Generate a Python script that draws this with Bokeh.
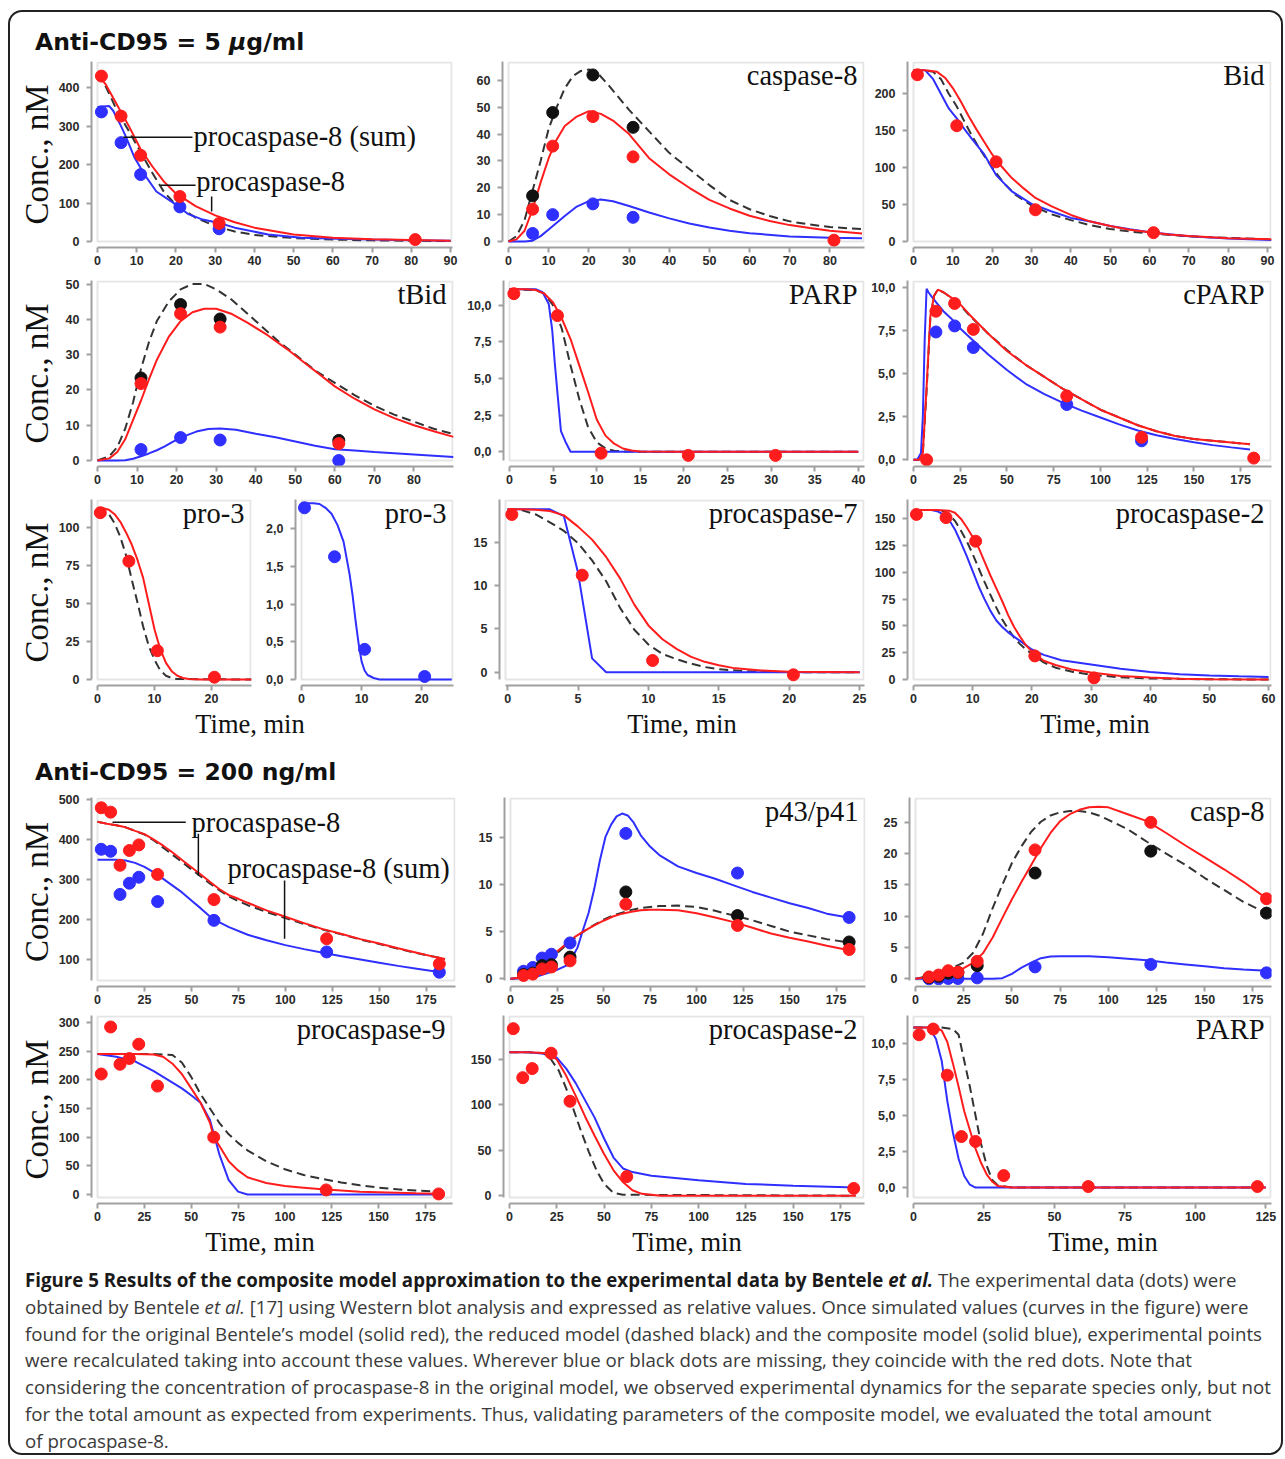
from bokeh.plotting import figure
from bokeh.models import Range1d, FixedTicker, BoxAnnotation, Label, Div, CustomJSTickFormatter
from bokeh.layouts import column, row
from bokeh.embed import file_html
from bokeh.resources import INLINE

# ---------------- data ----------------
# Panel A: procaspase-8 (5 ug/ml)
A_t = [0, 2, 5, 8, 11, 14, 17, 20, 25, 30, 35, 40, 50, 60, 70, 80, 90]
A_red = [435, 410, 355, 300, 240, 195, 155, 125, 92, 68, 50, 36, 18, 10, 6, 4, 2]
A_blk = [435, 405, 340, 287, 232, 178, 128, 95, 62, 40, 26, 17, 9, 5, 3, 2, 1]
A_tb = [0, 3, 4, 6, 7, 9.5, 12, 15, 20, 23, 26.5, 31, 35, 43.5, 52, 61, 70, 80, 90]
A_blu = [350, 352, 340, 300, 278, 217, 174, 130, 96, 72, 58, 48, 36, 18, 10, 7, 5, 3, 2]
A_dt = [1, 6, 11, 21, 31, 81]
A_dred = [430, 326, 224, 117, 47, 5]
A_dtb = [1, 6, 11, 21, 31]
A_dblu = [337, 257, 174, 90, 33]
A_lead_x0 = [6.6, 16.1, 29.1]
A_lead_y0 = [271, 146, 117]
A_lead_x1 = [24.2, 25.0, 29.1]
A_lead_y1 = [271, 146, 78]

# Panel B: caspase-8
B_tr = [0, 2, 4, 6, 8, 10, 12, 14, 17, 20, 23, 26, 30, 35, 40, 45, 50, 55, 60, 65, 70, 75, 80, 88]
B_red = [0, 0.8, 4, 12, 22, 31, 38, 43, 46.5, 48.5, 47.5, 45, 40, 31, 25, 20, 15.5, 12.3, 9.6, 7.6, 6.1, 5, 4, 3]
B_tk = [0, 2, 4, 6, 8, 10, 12, 14, 16, 18, 20, 22, 25, 30, 35, 40, 45, 50, 55, 60, 65, 70, 75, 80, 88]
B_blk = [0, 2, 8, 19, 30, 42, 50, 57, 61.5, 63.5, 64, 63, 58, 49, 41, 33, 27, 21, 15.5, 12, 9.5, 7.5, 6.3, 5.4, 4.6]
B_tb = [0, 4, 6, 8, 10, 12, 14, 17, 20, 23, 26, 30, 35, 40, 45, 50, 55, 60, 70, 80, 88]
B_blu = [0, 0, 0.3, 2, 4.5, 7, 9.5, 13, 15, 15.6, 15, 13.2, 10.8, 8.6, 6.7, 5.2, 4, 3.1, 1.9, 1.4, 1.2]
B_dt = [6, 11, 21, 31]
B_dblk = [17, 48, 62, 42.5]
B_dblu = [3, 10, 14, 9]
B_dtr = [6, 11, 21, 31, 81]
B_dred = [12, 35.5, 46.5, 31.5, 0.5]

# Panel C: Bid
C_tr = [0, 3, 6, 8, 10, 12, 14, 16, 18, 20, 22, 25, 28, 31, 35, 40, 45, 50, 55, 60, 65, 70, 80, 91]
C_red = [232, 232, 230, 222, 208, 190, 170, 152, 135, 118, 104, 86, 72, 59, 48, 36, 27, 21, 16, 12.5, 9.5, 7.5, 4.5, 3]
C_tk = [0, 3, 5, 7, 9, 11, 13, 15, 17, 20, 23, 26, 30, 35, 40, 45, 50, 55, 60, 70, 80, 91]
C_blk = [232, 232, 230, 220, 200, 183, 162, 142, 124, 100, 79, 63, 49, 37, 29, 22, 17, 13.5, 11, 7, 5, 3]
C_tb = [0, 3, 5, 7, 9, 11, 13, 15, 18, 21, 25, 30, 35, 40, 45, 50, 55, 60, 70, 80, 91]
C_blu = [232, 232, 220, 200, 180, 167, 152, 138, 118, 90, 68, 51, 41, 32, 27, 21, 16.5, 12.5, 7, 4, 2]
C_dt = [1, 11, 21, 31, 61]
C_dred = [226, 157, 108, 43, 12]

# Panel D: tBid
D_tr = [0, 3, 5, 7, 9, 11, 13, 15, 18, 21, 24, 27, 30, 34, 38, 43, 48, 52, 56, 60, 65, 70, 75, 80, 85, 90]
D_red = [0, 0.6, 2.4, 6, 11.5, 17, 23, 28.5, 35, 39.5, 42, 43, 43, 41.5, 39, 35.5, 31.5, 28, 24.5, 21, 17.5, 14.5, 12, 10, 8.3, 6.7]
D_tk = [0, 3, 5, 7, 9, 11, 13, 15, 18, 21, 24, 27, 30, 34, 38, 42, 46, 50, 55, 60, 65, 70, 75, 80, 85, 90]
D_blk = [0, 1.2, 3.8, 9, 16.5, 26, 33.5, 39.5, 45, 48.5, 50, 50, 48.5, 45.5, 41.5, 37.5, 33.5, 30, 25.5, 22, 18.5, 15.5, 13, 11, 9, 7.5]
D_tb = [0, 5, 7, 9, 11, 13, 15, 17, 19, 22, 25, 28, 31, 35, 40, 45, 50, 55, 60, 65, 70, 80, 90]
D_blu = [0, 0, 0.1, 0.5, 1.2, 2, 2.9, 4, 5.3, 6.9, 8.2, 8.9, 9.1, 8.7, 7.6, 6.6, 5.4, 4.2, 3.2, 2.8, 2.4, 1.7, 1]
D_dt = [11, 21, 31, 61]
D_dblk = [23.4, 44.2, 40.1, 5.7]
D_dred = [21.8, 41.6, 37.8, 4.8]
D_dblu = [3.1, 6.5, 5.8, 0]

# Panel E: PARP
E_tr = [0, 2, 3, 4, 5, 6, 7, 8, 9, 10, 11, 12, 13, 14, 15, 20, 30, 40]
E_red = [11.1, 11.1, 11.05, 10.8, 10.2, 9.1, 7.7, 5.9, 4.1, 2.2, 1.1, 0.55, 0.22, 0.08, 0.02, 0, 0, 0]
E_tk = [0, 3, 4, 5, 6, 7, 8, 9, 10, 11, 12, 13, 15, 40]
E_blk = [11.1, 11.05, 10.8, 10.0, 8.4, 5.9, 3.6, 1.7, 0.65, 0.22, 0.07, 0.02, 0, 0]
E_tb = [0, 3, 3.8, 4.5, 4.9, 5.2, 5.5, 5.9, 6.4, 7, 40]
E_blu = [11.1, 11.1, 10.9, 10.1, 8.3, 6.0, 4.0, 1.4, 0.7, 0, 0]
E_dt = [0.5, 5.5, 10.5, 20.5, 30.5]
E_dred = [10.8, 9.3, -0.1, -0.25, -0.25]

# Panel F: cPARP
F_tr = [0, 3, 5, 7, 9, 11, 13, 16, 20, 25, 30, 40, 50, 60, 70, 80, 90, 100, 110, 120, 130, 140, 150, 160, 170, 180]
F_red = [0, 0, 0.4, 4.2, 8.3, 9.5, 9.85, 9.7, 9.4, 9.0, 8.4, 7.3, 6.3, 5.5, 4.8, 4.1, 3.5, 2.9, 2.45, 2.0, 1.65, 1.38, 1.2, 1.1, 1.0, 0.9]
F_blk = [0, 0, 0.4, 4.0, 8.2, 9.5, 9.85, 9.7, 9.4, 8.95, 8.35, 7.3, 6.35, 5.5, 4.8, 4.1, 3.5, 2.9, 2.45, 2.0, 1.65, 1.38, 1.2, 1.1, 1.0, 0.9]
F_tb = [0, 2, 4, 5, 6, 7, 8, 10, 13, 16, 20, 25, 30, 40, 50, 60, 70, 80, 90, 100, 110, 120, 130, 140, 150, 160, 170, 180]
F_blu = [0, 0, 0.4, 2.5, 7.0, 9.9, 9.7, 9.4, 9.0, 8.6, 8.2, 7.6, 7.1, 6.1, 5.2, 4.4, 3.8, 3.3, 2.85, 2.45, 2.05, 1.7, 1.42, 1.2, 1.02, 0.85, 0.72, 0.6]
F_dtr = [7, 12, 22, 32, 82, 122, 182]
F_dred = [0, 8.6, 9.05, 7.55, 3.7, 1.3, 0.1]
F_dtb = [12, 22, 32, 82, 122]
F_dblu = [7.4, 7.75, 6.5, 3.2, 1.1]

# Panel G: pro-3 (original/reduced)
G_tr = [0, 1, 2, 3, 4, 5, 6, 7, 8, 9, 10, 11, 12, 13, 14, 15, 16, 18, 20, 27]
G_red = [113, 113, 112, 109, 104, 97, 89, 79, 67, 50, 33, 20, 11, 5.5, 2.5, 1, 0.4, 0, 0, 0]
G_tk = [0, 1, 2, 3, 4, 5, 6, 7, 8, 9, 10, 11, 12, 13, 14, 27]
G_blk = [113, 112, 109, 103, 94, 82, 66, 51, 35, 22, 13, 6, 2.5, 1, 0.3, 0]
G_dt = [0.5, 5.5, 10.5, 20.5]
G_dred = [110, 78, 19, 1.5]

# Panel H: pro-3 (composite)
H_tb = [0, 1, 2, 3, 4, 5, 6, 7, 8, 8.5, 9, 9.5, 10, 10.5, 11, 12, 13, 25]
H_blu = [2.34, 2.34, 2.34, 2.33, 2.28, 2.2, 2.05, 1.83, 1.4, 1.12, 0.78, 0.48, 0.24, 0.12, 0.06, 0.02, 0, 0]
H_dt = [0.5, 5.5, 10.5, 20.5]
H_dblu = [2.28, 1.63, 0.4, 0.04]

# Panel I: procaspase-7
I_tr = [0, 1, 2, 3, 4, 5, 6, 7, 8, 9, 10, 11, 12, 13, 14, 15, 16, 18, 20, 25]
I_red = [18.8, 18.8, 18.75, 18.6, 18.1, 16.8, 15.3, 13.3, 10.8, 7.8, 5.4, 3.8, 2.7, 1.8, 1.2, 0.8, 0.5, 0.2, 0.05, 0]
I_tk = [0, 1, 2, 3, 4, 5, 6, 7, 8, 9, 10, 11, 12, 13, 14, 15, 17, 20, 25]
I_blk = [18.8, 18.7, 18.2, 17.3, 16.3, 14.9, 12.9, 10.5, 7.4, 4.9, 3.2, 2.1, 1.5, 1.0, 0.6, 0.35, 0.1, 0, 0]
I_tb = [0, 3, 4, 5, 6, 7, 25]
I_blu = [18.8, 18.8, 18.0, 11.5, 1.6, 0, 0]
I_dt = [0.3, 5.3, 10.3, 20.3]
I_dred = [18.2, 11.2, 1.35, -0.3]

# Panel J: procaspase-2 (5 ug/ml)
J_tr = [0, 2, 4, 6, 7, 8, 9, 10, 11, 12, 13, 14, 15, 16, 17, 18, 19, 20, 22, 24, 27, 30, 35, 40, 45, 50, 60]
J_red = [158, 158, 158, 157.5, 155.5, 150, 142, 133, 123, 110, 97, 85, 73, 60, 49, 40, 32, 26, 17.5, 13.5, 9, 6.5, 3.3, 1.8, 0.8, 0.3, 0]
J_tk = [0, 2, 4, 5, 6, 7, 8, 9, 10, 11, 12, 13, 14, 15, 16, 17, 18, 19, 20, 22, 24, 27, 30, 35, 40, 50, 60]
J_blk = [158, 158, 158, 157, 154, 148, 139, 129, 117, 104, 91, 79, 67, 56, 47, 39, 33, 28, 24, 16, 11, 7, 4.5, 2, 1, 0.2, 0]
J_tb = [0, 2, 3, 4, 5, 6, 7, 8, 9, 10, 11, 12, 13, 14, 15, 16, 18, 20, 22, 25, 30, 35, 40, 45, 50, 55, 60]
J_blu = [158, 158, 158, 157, 154, 149, 140, 128, 115, 101, 87, 75, 64, 55, 49, 44, 36, 28, 23, 18, 14, 10, 7, 5, 3.8, 3, 2.3]
J_dt = [0.5, 5.5, 10.5, 20.5, 30.5]
J_dred = [154, 151, 129, 22, 1.5]

# Panel K: procaspase-8 (200 ng/ml)
K_t = [0, 5, 10, 15, 20, 25, 30, 35, 40, 45, 50, 55, 60, 65, 70, 75, 80, 90, 100, 110, 120, 130, 140, 150, 160, 170, 180, 185]
K_red = [445, 440, 436, 431, 422, 414, 400, 385, 368, 349, 331, 313, 294, 276, 261, 252, 242, 223, 207, 191, 176, 164, 151, 140, 128, 117, 106, 101]
K_blk = [445, 440, 436, 431, 422, 413, 398, 380, 362, 344, 326, 308, 290, 273, 258, 246, 236, 219, 204, 189, 175, 163, 150, 139, 127, 116, 106, 101]
K_tb = [0, 5, 10, 15, 20, 25, 30, 35, 40, 45, 50, 55, 60, 65, 70, 80, 90, 100, 110, 120, 130, 140, 150, 160, 170, 180, 185]
K_blu = [350, 350, 350, 348, 342, 332, 318, 302, 285, 268, 248, 228, 207, 193, 181, 162, 148, 136, 126, 117, 108, 100, 92, 84, 77, 70, 67]
K_dt = [2, 7, 12, 17, 22, 32, 62, 122, 182]
K_dred = [480, 469, 336, 373, 387, 313, 250, 152, 89]
K_dblu = [376, 371, 263, 291, 306, 245, 198, 119, 68]
K_lead_x0 = [8, 53.7, 99.6]
K_lead_y0 = [444, 415, 298]
K_lead_x1 = [47, 53.7, 99.6]
K_lead_y1 = [444, 310, 152]

# Panel L: p43/p41
L_t = [0, 5, 10, 15, 20, 25, 30, 35, 40, 45, 50, 55, 60, 65, 70, 75, 80, 90, 100, 110, 120, 130, 140, 150, 160, 170, 180, 182]
L_red = [0, 0.1, 0.4, 1.0, 2.0, 2.9, 3.7, 4.5, 5.1, 5.65, 6.15, 6.6, 6.9, 7.1, 7.25, 7.3, 7.3, 7.25, 6.95, 6.5, 6.0, 5.4, 4.8, 4.35, 3.95, 3.5, 3.1, 3.05]
L_blk = [0, 0.1, 0.35, 0.9, 1.8, 2.7, 3.6, 4.4, 5.1, 5.7, 6.25, 6.7, 7.0, 7.3, 7.5, 7.6, 7.7, 7.75, 7.6, 7.2, 6.7, 6.2, 5.6, 5.0, 4.6, 4.2, 3.9, 3.85]
L_tb = [0, 10, 15, 20, 25, 30, 33, 36, 39, 42, 45, 48, 51, 54, 57, 60, 63, 66, 70, 75, 80, 90, 100, 110, 120, 130, 140, 150, 160, 170, 180, 182]
L_blu = [0, 0.1, 0.3, 0.6, 0.95, 1.4, 2.2, 3.3, 5.2, 7.0, 9.5, 12.5, 15.0, 16.3, 17.2, 17.5, 17.3, 16.6, 15.2, 14.0, 13.1, 11.9, 11.2, 10.6, 9.9, 9.2, 8.6, 8.0, 7.5, 6.9, 6.55, 6.45]
L_dt = [7, 12, 17, 22, 32, 62, 122, 182]
L_dblu = [0.8, 1.2, 2.2, 2.6, 3.8, 15.4, 11.2, 6.5]
L_dblk = [0.45, 0.6, 1.4, 1.5, 2.3, 9.2, 6.7, 3.9]
L_dred = [0.35, 0.5, 1.05, 1.25, 1.9, 7.9, 5.65, 3.1]

# Panel M: casp-8
M_t = [0, 5, 10, 15, 20, 25, 30, 35, 40, 45, 50, 55, 60, 65, 70, 75, 80, 85, 90, 95, 100, 110, 120, 130, 140, 150, 160, 170, 180, 182]
M_red = [0, 0.2, 0.5, 1.0, 1.3, 1.7, 2.6, 4.1, 6.6, 9.7, 12.7, 15.5, 18.2, 20.9, 23.3, 25.2, 26.3, 27.0, 27.4, 27.5, 27.4, 26.3, 25.2, 23.3, 21.3, 19.4, 17.5, 15.5, 13.3, 13.0]
M_blk = [0, 0.3, 0.7, 1.3, 1.9, 2.6, 4.2, 7.2, 11.3, 15, 18.5, 21.2, 23.5, 25.1, 26.1, 26.6, 26.8, 26.8, 26.6, 26.1, 25.4, 23.9, 21.9, 20, 18.2, 16.1, 14.2, 12.3, 10.8, 10.5]
M_tb = [0, 40, 45, 50, 55, 60, 65, 70, 75, 80, 90, 100, 110, 120, 130, 140, 150, 160, 170, 182]
M_blu = [0, 0, 0.1, 0.8, 1.8, 2.6, 3.3, 3.55, 3.6, 3.6, 3.6, 3.45, 3.2, 2.95, 2.6, 2.3, 2.0, 1.7, 1.5, 1.3]
M_dt = [7, 12, 17, 22, 32, 62, 122, 182]
M_dred = [0.3, 0.6, 1.3, 1.05, 2.8, 20.6, 25, 12.8]
M_dblk = [0.2, 0.4, 0.9, 1.0, 2.1, 16.9, 20.4, 10.5]
M_dblu = [0, 0, 0.05, 0.05, 0.15, 1.9, 2.3, 0.95]

# Panel N: procaspase-9
N_tr = [0, 10, 20, 30, 35, 40, 45, 50, 55, 60, 62, 65, 70, 75, 80, 90, 100, 110, 120, 130, 140, 150, 160, 170, 180, 183]
N_red = [245, 245, 245, 244, 240, 228, 210, 185, 160, 125, 100, 85, 58, 42, 30, 20, 15, 12, 9, 7, 5, 4, 3, 2, 1.5, 1]
N_tk = [0, 10, 20, 30, 40, 45, 50, 55, 60, 65, 70, 75, 80, 90, 100, 110, 120, 130, 140, 150, 160, 170, 180, 183]
N_blk = [245, 245, 245, 245, 243, 230, 205, 175, 150, 125, 105, 90, 77, 58, 44, 34, 27, 21, 16, 12, 9, 7, 5, 4.5]
N_tb = [0, 10, 20, 30, 35, 40, 45, 50, 55, 60, 65, 70, 75, 80, 90, 183]
N_blu = [245, 240, 232, 215, 205, 195, 185, 173, 160, 130, 70, 25, 5, 0, 0, 0]
N_dt = [2, 7, 12, 17, 22, 32, 62, 122, 182]
N_dred = [210, 292, 227, 237, 262, 189, 100, 8, 1]

# Panel O: procaspase-2 (200 ng/ml)
O_tr = [0, 10, 20, 25, 30, 35, 40, 45, 50, 55, 60, 65, 70, 80, 183]
O_red = [158, 158, 157, 150, 132, 110, 87, 66, 46, 28, 15, 6, 2, 0, 0]
O_tk = [0, 10, 18, 22, 26, 30, 34, 38, 42, 46, 50, 55, 60, 183]
O_blk = [158, 158, 157, 150, 138, 118, 94, 70, 48, 28, 13, 3, 1, 0]
O_tb = [0, 10, 20, 25, 30, 35, 40, 45, 50, 55, 60, 65, 75, 100, 125, 150, 183]
O_blu = [158, 158, 156, 152, 140, 124, 105, 86, 63, 42, 30, 26, 22, 17, 13, 11, 9]
O_dt = [2, 7, 12, 22, 32, 62, 182]
O_dred = [184, 130, 140, 157, 104, 21, 8]

# Panel P: PARP (200 ng/ml)
P_tr = [0, 5, 8, 10, 12, 14, 16, 18, 20, 22, 24, 26, 28, 30, 35, 125]
P_red = [11.1, 11.1, 11.05, 10.9, 10.1, 8.6, 7.0, 5.3, 4.0, 2.7, 1.7, 0.9, 0.4, 0.1, 0, 0]
P_tk = [0, 10, 14, 16, 18, 20, 22, 24, 26, 28, 30, 35, 125]
P_blk = [11.1, 11.1, 11.0, 10.6, 8.8, 7.0, 5.0, 3.0, 1.5, 0.5, 0.15, 0, 0]
P_tb = [0, 5, 6, 8, 10, 12, 14, 16, 18, 20, 22, 125]
P_blu = [11.1, 11.1, 11.0, 10.3, 8.8, 6.0, 3.8, 2.0, 0.8, 0.2, 0, 0]
P_dt = [2, 7, 12, 17, 22, 32, 62, 122]
P_dred = [10.6, 11.0, 7.8, 3.54, 3.2, 0.83, 0.07, 0.07]

# tick values
T_A_X = list(range(0, 91, 10)); T_A_Y = [0, 100, 200, 300, 400]
T_B_X = list(range(0, 81, 10)); T_B_Y = list(range(0, 61, 10))
T_C_X = list(range(0, 91, 10)); T_C_Y = [0, 50, 100, 150, 200]
T_D_X = list(range(0, 81, 10)); T_D_Y = list(range(0, 51, 10))
T_E_X = list(range(0, 41, 5)); T_E_Y = [0, 2.5, 5, 7.5, 10]
T_F_X = list(range(0, 176, 25)); T_F_Y = [0, 2.5, 5, 7.5, 10]
T_G_X = [0, 10, 20]; T_G_Y = [0, 25, 50, 75, 100]
T_H_X = [0, 10, 20]; T_H_Y = [0, 0.5, 1.0, 1.5, 2.0]
T_I_X = list(range(0, 26, 5)); T_I_Y = [0, 5, 10, 15]
T_J_X = list(range(0, 61, 10)); T_J_Y = list(range(0, 151, 25))
T_K_X = list(range(0, 176, 25)); T_K_Y = [100, 200, 300, 400, 500]
T_L_X = list(range(0, 176, 25)); T_L_Y = [0, 5, 10, 15]
T_M_X = list(range(0, 176, 25)); T_M_Y = list(range(0, 26, 5))
T_N_X = list(range(0, 176, 25)); T_N_Y = list(range(0, 301, 50))
T_O_X = list(range(0, 176, 25)); T_O_Y = [0, 50, 100, 150]
T_P_X = list(range(0, 126, 25)); T_P_Y = [0, 2.5, 5, 7.5, 10]

# ---------------- style ----------------
OFF = 6
RED = "#ff1c1c"
BLUE = "#2f2fff"
DASH = "#333333"
DOTK = "#111111"
BOXC = "#a9a9a9"
AXC = "#a0a0a0"
TICKFONT = "Liberation Sans"
SERIF = "Liberation Serif"


def comma_fmt():
    return CustomJSTickFormatter(code="return tick.toFixed(1).replace('.', ',');")


def make_panel(bw, bh, xr, yr, xt, yt, mb, name=None, yfmt=None, ylabel=None, ylab_standoff=1):
    mbl, mbr, mbt, mbb = mb
    x0, x1 = xr
    y0, y1 = yr
    dx = (x1 - x0) / bw
    dy = (y1 - y0) / bh
    p = figure(width=mbl + bw + OFF + mbr, height=mbt + bh + OFF + mbb,
               x_range=Range1d(x0 - OFF * dx, x1), y_range=Range1d(y0 - OFF * dy, y1),
               output_backend="svg", toolbar_location=None,
               min_border_left=mbl, min_border_right=mbr,
               min_border_top=mbt, min_border_bottom=mbb,
               outline_line_color=None, background_fill_color="white",
               border_fill_color="white")
    p.grid.visible = False
    p.add_layout(BoxAnnotation(left=x0, right=x1 - dx, bottom=y0, top=y1 - dy,
                               fill_alpha=0, fill_color=None, line_color=BOXC,
                               line_width=2, level="underlay"))
    xa = p.xaxis[0]
    ya = p.yaxis[0]
    xa.ticker = FixedTicker(ticks=xt)
    ya.ticker = FixedTicker(ticks=yt)
    xa.bounds = (x0, x1)
    ya.bounds = (y0, y1)
    for ax in (xa, ya):
        ax.axis_line_color = AXC
        ax.axis_line_width = 2
        ax.major_tick_line_color = AXC
        ax.major_tick_line_width = 2
        ax.major_tick_in = 0
        ax.major_tick_out = 5
        ax.minor_tick_line_color = None
        ax.major_label_text_font = TICKFONT
        ax.major_label_text_font_size = "12.5px"
        ax.major_label_text_font_style = "bold"
        ax.major_label_text_color = "#2a2a2a"
    xa.major_label_standoff = 3
    ya.major_label_standoff = 7
    if yfmt is not None:
        ya.formatter = yfmt
    if ylabel:
        ya.axis_label = ylabel
        ya.axis_label_text_font = SERIF
        ya.axis_label_text_font_size = "33px"
        ya.axis_label_text_font_style = "normal"
        ya.axis_label_text_color = "#111111"
        ya.axis_label_standoff = ylab_standoff
    if name:
        p.add_layout(Label(x=x1 - 7 * dx, y=y1 + 2 * dy, text=name, text_align="right",
                           text_baseline="top", text_font=SERIF, text_font_size="28.5px",
                           text_color="#111111"))
    return p


def curve(p, t, v, kind):
    if kind == "red":
        p.line(t, v, line_color=RED, line_width=2)
    elif kind == "blue":
        p.line(t, v, line_color=BLUE, line_width=2)
    else:
        p.line(t, v, line_color=DASH, line_width=2, line_dash="9 5")


def dots(p, t, v, kind):
    c = {"red": RED, "blue": BLUE, "black": DOTK}[kind]
    p.scatter(t, v, size=12, fill_color=c, line_color=c)


def note(p, x, y, text):
    p.add_layout(Label(x=x, y=y, text=text, text_align="left", text_baseline="middle",
                       text_font=SERIF, text_font_size="28.5px", text_color="#111111"))


CONC = "Conc., nM"

# ---------------- Row 1 ----------------
pA = make_panel(355, 180, (0, 90.5), (0, 468), T_A_X, T_A_Y, (81, 10, 5, 25), ylabel=CONC)
curve(pA, A_t, A_blk, "black"); curve(pA, A_tb, A_blu, "blue"); curve(pA, A_t, A_red, "red")
dots(pA, A_dtb, A_dblu, "blue"); dots(pA, A_dt, A_dred, "red")
pA.segment(x0=A_lead_x0, y0=A_lead_y0, x1=A_lead_x1, y1=A_lead_y1, line_color="#111111", line_width=1.5)
note(pA, 24.5, 274, "procaspase-8 (sum)")
note(pA, 25.2, 157, "procaspase-8")

pB = make_panel(356, 180, (0, 88.6), (0, 67), T_B_X, T_B_Y, (40, 2, 5, 25), name="caspase-8")
curve(pB, B_tk, B_blk, "black"); curve(pB, B_tb, B_blu, "blue"); curve(pB, B_tr, B_red, "red")
dots(pB, B_dt, B_dblk, "black"); dots(pB, B_dt, B_dblu, "blue"); dots(pB, B_dtr, B_dred, "red")

pC = make_panel(358, 180, (0, 91), (0, 244), T_C_X, T_C_Y, (41, 10, 5, 25), name="Bid")
curve(pC, C_tk, C_blk, "black"); curve(pC, C_tb, C_blu, "blue"); curve(pC, C_tr, C_red, "red")
dots(pC, C_dt, C_dred, "red")

# ---------------- Row 2 ----------------
pD = make_panel(356, 180, (0, 90), (0, 51), T_D_X, T_D_Y, (81, 10, 8, 24), name="tBid",
                ylabel=CONC, ylab_standoff=8)
curve(pD, D_tk, D_blk, "black"); curve(pD, D_tb, D_blu, "blue"); curve(pD, D_tr, D_red, "red")
dots(pD, D_dt, D_dblk, "black"); dots(pD, D_dt, D_dblu, "blue"); dots(pD, D_dt, D_dred, "red")

pE = make_panel(355, 180, (0, 40.7), (-0.6, 11.7), T_E_X, T_E_Y, (40, 3, 8, 24), name="PARP",
                yfmt=comma_fmt())
curve(pE, E_tk, E_blk, "black"); curve(pE, E_tb, E_blu, "blue"); curve(pE, E_tr, E_red, "red")
dots(pE, E_dt, E_dred, "red")

pF = make_panel(358, 180, (0, 191.5), (-0.04, 10.38), T_F_X, T_F_Y, (40, 10, 8, 24), name="cPARP",
                yfmt=comma_fmt())
curve(pF, F_tr, F_blk, "black"); curve(pF, F_tb, F_blu, "blue"); curve(pF, F_tr, F_red, "red")
dots(pF, F_dtb, F_dblu, "blue"); dots(pF, F_dtr, F_dred, "red")

# ---------------- Row 3 ----------------
pG = make_panel(154, 180, (0, 27), (0, 118.7), T_G_X, T_G_Y, (81, 7, 9, 22), name="pro-3", ylabel=CONC)
curve(pG, G_tk, G_blk, "black"); curve(pG, G_tr, G_red, "red")
dots(pG, G_dt, G_dred, "red")

pH = make_panel(152, 180, (0, 25.3), (0, 2.39), T_H_X, T_H_Y, (37, 10, 9, 22), name="pro-3",
                yfmt=comma_fmt())
curve(pH, H_tb, H_blu, "blue")
dots(pH, H_dt, H_dblu, "blue")

pI = make_panel(359, 180, (-0.15, 25.35), (-0.84, 19.93), T_I_X, T_I_Y, (36, 3, 9, 22), name="procaspase-7")
curve(pI, I_tk, I_blk, "black"); curve(pI, I_tb, I_blu, "blue"); curve(pI, I_tr, I_red, "red")
dots(pI, I_dt, I_dred, "red")

pJ = make_panel(358, 180, (0, 60.5), (0, 167.9), T_J_X, T_J_Y, (40, 10, 9, 22), name="procaspase-2")
curve(pJ, J_tk, J_blk, "black"); curve(pJ, J_tb, J_blu, "blue"); curve(pJ, J_tr, J_red, "red")
dots(pJ, J_dt, J_dred, "red")

# ---------------- Row 4 ----------------
pK = make_panel(358, 183, (0, 190.6), (47.4, 505.7), T_K_X, T_K_Y, (81, 10, 7, 25), ylabel=CONC)
curve(pK, K_t, K_blk, "black"); curve(pK, K_tb, K_blu, "blue"); curve(pK, K_t, K_red, "red")
dots(pK, K_dt, K_dblu, "blue"); dots(pK, K_dt, K_dred, "red")
pK.segment(x0=K_lead_x0, y0=K_lead_y0, x1=K_lead_x1, y1=K_lead_y1, line_color="#111111", line_width=1.5)
note(pK, 50, 444, "procaspase-8")
note(pK, 69.2, 327, "procaspase-8 (sum)")

pL = make_panel(355, 183, (0, 190.8), (-0.18, 19.2), T_L_X, T_L_Y, (39, 3, 7, 25), name="p43/p41")
curve(pL, L_t, L_blk, "black"); curve(pL, L_tb, L_blu, "blue"); curve(pL, L_t, L_red, "red")
dots(pL, L_dt, L_dblu, "blue"); dots(pL, L_dt, L_dblk, "black"); dots(pL, L_dt, L_dred, "red")

pM = make_panel(356, 183, (0, 184.6), (-0.27, 28.97), T_M_X, T_M_Y, (41, 10, 7, 25), name="casp-8")
curve(pM, M_t, M_blk, "black"); curve(pM, M_tb, M_blu, "blue"); curve(pM, M_t, M_red, "red")
dots(pM, M_dt, M_dblu, "blue"); dots(pM, M_dt, M_dblk, "black"); dots(pM, M_dt, M_dred, "red")

# ---------------- Row 5 ----------------
pN = make_panel(355, 182, (0, 189.4), (-5.2, 312), T_N_X, T_N_Y, (81, 10, 4, 22), name="procaspase-9",
                ylabel=CONC)
curve(pN, N_tk, N_blk, "black"); curve(pN, N_tb, N_blu, "blue"); curve(pN, N_tr, N_red, "red")
dots(pN, N_dt, N_dred, "red")

pO = make_panel(355, 182, (0, 187.7), (-2, 198.5), T_O_X, T_O_Y, (41, 3, 4, 22), name="procaspase-2")
curve(pO, O_tk, O_blk, "black"); curve(pO, O_tb, O_blu, "blue"); curve(pO, O_tr, O_red, "red")
dots(pO, O_dt, O_dred, "red")

pP = make_panel(358, 182, (0, 127), (-0.69, 11.94), T_P_X, T_P_Y, (40, 10, 4, 22), name="PARP",
                yfmt=comma_fmt())
curve(pP, P_tk, P_blk, "black"); curve(pP, P_tb, P_blu, "blue"); curve(pP, P_tr, P_red, "red")
dots(pP, P_dt, P_dred, "red")

# ---------------- text blocks ----------------
W = 1271


def span(text, left, top, font, size, lh, extra=""):
    return (f'<span style="position:absolute;left:{left}px;top:{top}px;white-space:nowrap;'
            f'font-family:{font};font-size:{size}px;line-height:{lh}px;{extra}">{text}</span>')


def block(h, spans):
    html = f'<div style="position:relative;width:{W}px;height:{h}px;">' + "".join(spans) + "</div>"
    return Div(text=html, width=W, height=h, margin=0)


TITLE_FONT = "'DejaVu Sans'"
SERIF_CSS = "'Liberation Serif'"
center = "transform:translateX(-50%);color:#111;"
TSZ = 26.5

title1 = block(44, [span('Anti-CD95 = 5 <span style="font-style:italic">&mu;</span>g/ml', 25, 18,
                         TITLE_FONT, 23.5, 24, "font-weight:bold;color:#111;")])
mid = block(83, [
    span("Time, min", 240, 3, SERIF_CSS, TSZ, 28, center),
    span("Time, min", 672, 3, SERIF_CSS, TSZ, 28, center),
    span("Time, min", 1085, 3, SERIF_CSS, TSZ, 28, center),
    span("Anti-CD95 = 200 ng/ml", 25, 51, TITLE_FONT, 23.5, 28, "font-weight:bold;color:#111;"),
])
bottom = block(35, [
    span("Time, min", 250, 3, SERIF_CSS, TSZ, 28, center),
    span("Time, min", 677, 3, SERIF_CSS, TSZ, 28, center),
    span("Time, min", 1093, 3, SERIF_CSS, TSZ, 28, center),
])

CAPTION_LINES = [
    '<b style="color:#1a1a1a">Figure 5 Results of the composite model approximation to the experimental data by Bentele <i>et al.</i></b> The experimental data (dots) were',
    'obtained by Bentele <i>et al.</i> [17] using Western blot analysis and expressed as relative values. Once simulated values (curves in the figure) were',
    'found for the original Bentele&rsquo;s model (solid red), the reduced model (dashed black) and the composite model (solid blue), experimental points',
    'were recalculated taking into account these values. Wherever blue or black dots are missing, they coincide with the red dots. Note that',
    'considering the concentration of procaspase-8 in the original model, we observed experimental dynamics for the separate species only, but not',
    'for the total amount as expected from experiments. Thus, validating parameters of the composite model, we evaluated the total amount',
    'of procaspase-8.',
]
cap_html = ('<div style="width:%dpx;height:193px;box-sizing:border-box;padding:7px 0 0 15px;'
            "font-family:'Open Sans';font-size:18.7px;line-height:26.8px;color:#3a3a3a;white-space:nowrap;\">"
            % W) + "<br>".join(CAPTION_LINES) + "</div>"
caption = Div(text=cap_html, width=W, height=193, margin=0)

layout = column(
    title1,
    row(pA, pB, pC, spacing=0),
    row(pD, pE, pF, spacing=0),
    row(pG, pH, pI, pJ, spacing=0),
    mid,
    row(pK, pL, pM, spacing=0),
    row(pN, pO, pP, spacing=0),
    bottom,
    caption,
    spacing=0,
    margin=(10, 0, 0, 8),
    styles={"border": "2px solid #222", "border-radius": "14px", "background": "white"},
)

with open("out.html", "w") as f:
    f.write(file_html(layout, INLINE, title="Figure 5"))
